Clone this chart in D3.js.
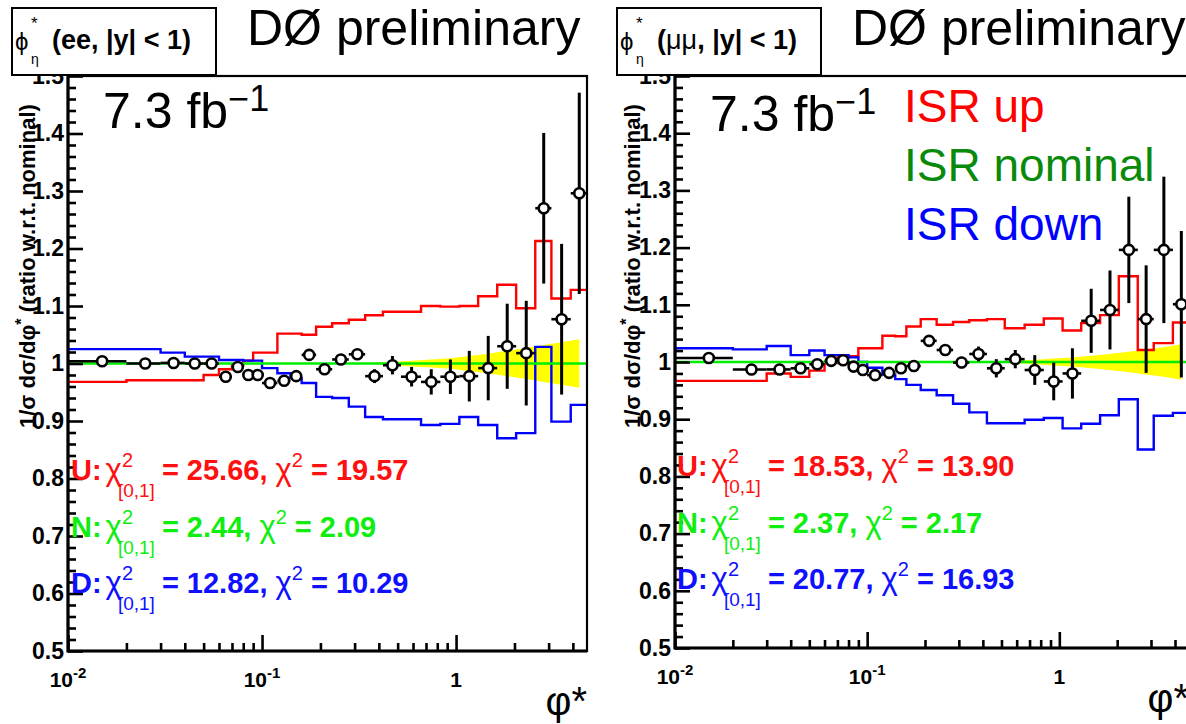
<!DOCTYPE html>
<html>
<head>
<meta charset="utf-8">
<script src="https://cdn.jsdelivr.net/npm/d3@7"></script>
<style>
  body { margin: 0; background: #fff; }
  svg { display: block; }
</style>
</head>
<body>
<svg id="chart" width="1186" height="724"></svg>
<script>
// ---- data ----
const binEdges = [0.01, 0.02, 0.03, 0.04, 0.05, 0.06, 0.07, 0.08, 0.09, 0.10, 0.12, 0.14, 0.16,
  0.19, 0.23, 0.28, 0.34, 0.42, 0.52, 0.66, 0.83, 1.04, 1.3, 1.63, 2.04, 2.56, 3.1, 3.9, 4.73];

// ee channel
const eeData = [1.004, 1.000, 1.001, 1.000, 1.000, 0.977, 0.994, 0.980, 0.980, 0.966, 0.970, 0.978,
  1.015, 0.990, 1.007, 1.016, 0.978, 0.997, 0.977, 0.968, 0.977, 0.978, 0.992, 1.030, 1.018, 1.270, 1.077, 1.296];
const eeErr = [0.004, 0.004, 0.004, 0.004, 0.004, 0.005, 0.005, 0.005, 0.005, 0.005, 0.005, 0.006,
  0.006, 0.007, 0.008, 0.009, 0.012, 0.016, 0.017, 0.022, 0.030, 0.044, 0.056, 0.074, 0.091, 0.131, 0.131, 0.175];
const eeIsrUp = [0.968, 0.971, 0.971, 0.971, 0.980, 0.990, 0.997, 1.005, 1.019, 1.019, 1.052, 1.052,
  1.050, 1.064, 1.070, 1.076, 1.084, 1.090, 1.090, 1.100, 1.099, 1.100, 1.117, 1.137, 1.096, 1.213, 1.113, 1.128];
const eeIsrDown = [1.025, 1.025, 1.019, 1.012, 1.012, 1.006, 1.006, 1.005, 1.005, 0.992, 0.983, 0.975,
  0.966, 0.942, 0.940, 0.925, 0.907, 0.903, 0.903, 0.893, 0.895, 0.907, 0.893, 0.870, 0.879, 1.029, 0.899, 0.928];
const eeBand = [null, null, null, null, null, null, null, null, null, null, null, null, null, null, null,
  0, 0.0015, 0.003, 0.005, 0.007, 0.009, 0.013, 0.017, 0.022, 0.027, 0.032, 0.037, 0.042];
const eeChi = [["U", "25.66", "19.57"], ["N", "2.44", "2.09"], ["D", "12.82", "10.29"]];

// mumu channel
const mmData = [1.007, 0.987, 0.987, 0.989, 0.996, 1.002, 1.003, 0.992, 0.986, 0.977, 0.981, 0.989,
  0.993, 1.037, 1.021, 0.999, 1.014, 0.989, 1.005, 0.986, 0.966, 0.980, 1.072, 1.091, 1.196, 1.075, 1.196, 1.101];
const mmErr = [0.004, 0.004, 0.004, 0.004, 0.004, 0.004, 0.004, 0.005, 0.005, 0.005, 0.005, 0.005,
  0.005, 0.005, 0.005, 0.010, 0.013, 0.016, 0.016, 0.026, 0.033, 0.044, 0.056, 0.069, 0.093, 0.094, 0.128, 0.128];
const mmIsrUp = [0.967, 0.967, 0.980, 0.974, 0.985, 0.998, 1.008, 1.010, 1.024, 1.024, 1.046, 1.045,
  1.062, 1.075, 1.065, 1.070, 1.073, 1.075, 1.059, 1.065, 1.076, 1.055, 1.068, 1.082, 1.150, 1.021, 1.033, 1.069];
const mmIsrDown = [1.024, 1.022, 1.028, 1.012, 1.020, 1.012, 1.012, 1.008, 1.000, 0.990, 0.978, 0.970,
  0.960, 0.951, 0.942, 0.927, 0.912, 0.893, 0.893, 0.899, 0.902, 0.884, 0.892, 0.907, 0.935, 0.847, 0.906, 0.911];
const mmBand = [null, null, null, null, null, null, null, null, null, null, null, null, null, null, null, null, null,
  0, 0.002, 0.004, 0.006, 0.008, 0.011, 0.014, 0.018, 0.022, 0.026, 0.031];
const mmChi = [["U", "18.53", "13.90"], ["N", "2.37", "2.17"], ["D", "20.77", "16.93"]];

// axes
const yMajor = [0.5, 0.6, 0.7, 0.8, 0.9, 1.0, 1.1, 1.2, 1.3, 1.4, 1.5];
const xMajor = [0.01, 0.1, 1];
const xMajorLabels = [["10", "-2"], ["10", "-1"], ["1", ""]];
const xMinor = [0.02, 0.03, 0.04, 0.05, 0.06, 0.07, 0.08, 0.09, 0.2, 0.3, 0.4, 0.5, 0.6, 0.7, 0.8, 0.9, 2, 3, 4];
const legendLabels = ["ISR up", "ISR nominal", "ISR down"];

const FONT = "'Liberation Sans', Arial, Helvetica, sans-serif";
const RED = "#ff0000", GREEN = "#00ee00", BLUE = "#0000ff";
const chiColors = { U: "#ff1010", N: "#10ee10", D: "#1010ff" };

const svg = d3.select("#chart").attr("font-family", FONT);

// ---- panel layout ----
const panels = [
  { key: "ee", left: 68, right: 587, top: 76, bottom: 651, data: eeData, err: eeErr,
    up: eeIsrUp, down: eeIsrDown, band: eeBand, chi: eeChi, channel: "ee", boxX: 12,
    chiX: 71, chiY: 480, lumiX: 103, lumiY: 128, titleX: 35 },
  { key: "mm", left: 675, right: 1189, top: 76, bottom: 648, data: mmData, err: mmErr,
    up: mmIsrUp, down: mmIsrDown, band: mmBand, chi: mmChi, channel: "μμ", boxX: 617,
    chiX: 677, chiY: 476, lumiX: 710, lumiY: 131, titleX: 640, legend: true }
];

function drawPanel(p) {
  const x = d3.scaleLog().domain([0.01, 4.73]).range([p.left, p.right]);
  const y = d3.scaleLinear().domain([0.5, 1.5]).range([p.bottom, p.top]);
  const n = binEdges.length - 1;
  const centers = d3.range(n).map(i => (binEdges[i] + binEdges[i + 1]) / 2);

  const g = svg.append("g");
  const clipId = "clip-" + p.key;
  svg.append("clipPath").attr("id", clipId)
    .append("rect")
    .attr("x", p.left).attr("y", p.top)
    .attr("width", p.right - p.left).attr("height", p.bottom - p.top);

  // y title first, so that tick labels sit over it
  const yt = g.append("text")
    .attr("transform", `translate(${p.titleX},428) rotate(-90)`)
    .attr("font-size", 22).attr("font-weight", "bold");
  yt.append("tspan").text("1/σ dσ/dφ");
  yt.append("tspan").attr("dy", -8).attr("font-size", 16).text("*");
  yt.append("tspan").attr("dy", 8).text(" (ratio w.r.t. nominal)");

  const plot = g.append("g").attr("clip-path", `url(#${clipId})`);

  // yellow uncertainty band
  const bandPts = p.band.map((w, i) => ({ c: centers[i], w })).filter(d => d.w !== null);
  const area = d3.area()
    .x(d => x(d.c))
    .y0(d => y(1 - d.w))
    .y1(d => y(1 + d.w));
  plot.append("path").datum(bandPts).attr("d", area).attr("fill", "#ffff00");

  // ISR up / down histograms
  const stepLine = d3.line()
    .x(d => x(d[0]))
    .y(d => y(d[1]))
    .curve(d3.curveStepAfter);
  const stepPts = vals => binEdges.map((e, i) => [e, vals[Math.min(i, vals.length - 1)]]);

  plot.append("path").datum(stepPts(p.up)).attr("d", stepLine)
    .attr("fill", "none").attr("stroke", RED).attr("stroke-width", 2.4);
  plot.append("path").datum(stepPts(p.down)).attr("d", stepLine)
    .attr("fill", "none").attr("stroke", BLUE).attr("stroke-width", 2.4);

  // nominal
  plot.append("line")
    .attr("x1", p.left).attr("x2", p.right)
    .attr("y1", y(1)).attr("y2", y(1))
    .attr("stroke", GREEN).attr("stroke-width", 2.6);

  // data points
  const pts = p.data.map((v, i) => ({ v, e: p.err[i], c: centers[i], lo: binEdges[i], hi: binEdges[i + 1] }));
  plot.selectAll("line.xerr").data(pts).join("line")
    .attr("class", "xerr")
    .attr("x1", d => x(d.lo)).attr("x2", d => x(d.hi))
    .attr("y1", d => y(d.v)).attr("y2", d => y(d.v))
    .attr("stroke", "#000").attr("stroke-width", 2.6);
  plot.selectAll("line.yerr").data(pts).join("line")
    .attr("class", "yerr")
    .attr("x1", d => x(d.c)).attr("x2", d => x(d.c))
    .attr("y1", d => y(d.v - d.e)).attr("y2", d => y(d.v + d.e))
    .attr("stroke", "#000").attr("stroke-width", 3);
  plot.selectAll("circle.pt").data(pts).join("circle")
    .attr("class", "pt")
    .attr("cx", d => x(d.c)).attr("cy", d => y(d.v))
    .attr("r", 5)
    .attr("fill", "#fff").attr("stroke", "#000").attr("stroke-width", 2.6);

  // frame
  g.append("rect")
    .attr("x", p.left).attr("y", p.top)
    .attr("width", p.right - p.left).attr("height", p.bottom - p.top)
    .attr("fill", "none").attr("stroke", "#000").attr("stroke-width", 2.2);
  g.append("line").attr("x1", p.left).attr("x2", p.left).attr("y1", p.top).attr("y2", p.bottom + 1.5)
    .attr("stroke", "#000").attr("stroke-width", 3.2);
  g.append("line").attr("x1", p.left).attr("x2", p.right).attr("y1", p.bottom).attr("y2", p.bottom)
    .attr("stroke", "#000").attr("stroke-width", 3.2);

  // y axis
  const yMinor = d3.range(0.5, 1.5001, 0.02).filter(v => Math.abs(v * 10 - Math.round(v * 10)) > 1e-6);
  const styleAxis = s => {
    s.select(".domain").remove();
    s.selectAll("line").attr("stroke", "#000").attr("stroke-width", 2.6);
  };
  g.append("g")
    .attr("transform", `translate(${p.left},0)`)
    .call(d3.axisLeft(y).tickValues(yMinor).tickSize(-8).tickFormat(""))
    .call(styleAxis);
  g.append("g")
    .attr("transform", `translate(${p.left},0)`)
    .call(d3.axisLeft(y).tickValues(yMajor).tickSize(-15).tickPadding(4)
      .tickFormat(d => String(Math.round(d * 10) / 10)))
    .call(styleAxis)
    .call(s => s.selectAll("text")
      .attr("font-family", FONT).attr("font-size", 23).attr("font-weight", "bold").attr("fill", "#000"));

  // x axis
  g.append("g")
    .attr("transform", `translate(0,${p.bottom})`)
    .call(d3.axisBottom(x).tickValues(xMinor).tickSize(-8).tickFormat(""))
    .call(styleAxis);
  g.append("g")
    .attr("transform", `translate(0,${p.bottom})`)
    .call(d3.axisBottom(x).tickValues(xMajor).tickSize(-16).tickFormat(""))
    .call(styleAxis);

  xMajor.forEach((v, i) => {
    const [base, expo] = xMajorLabels[i];
    const t = g.append("text")
      .attr("x", x(v)).attr("y", p.bottom + 36)
      .attr("text-anchor", "middle")
      .attr("font-size", 21).attr("font-weight", "bold");
    t.append("tspan").text(base);
    if (expo) t.append("tspan").attr("dy", -9).attr("font-size", 15).text(expo);
  });

  // x title
  g.append("text")
    .attr("x", p.right).attr("y", p.bottom + 64)
    .attr("text-anchor", "end")
    .attr("font-size", 40)
    .text("φ*");

  // luminosity
  const lumi = g.append("text")
    .attr("x", p.lumiX).attr("y", p.lumiY)
    .attr("font-size", 50);
  lumi.append("tspan").text("7.3 fb");
  lumi.append("tspan").attr("dy", -17).attr("font-size", 36).text("−1");

  // legend
  if (p.legend) {
    const legColors = [RED, "#0a8a0a", BLUE];
    legendLabels.forEach((lab, i) => {
      g.append("text")
        .attr("x", 904).attr("y", 122 + i * 59)
        .attr("font-size", 46)
        .attr("fill", legColors[i])
        .text(lab);
    });
  }

  // chi2 lines
  p.chi.forEach((row, i) => {
    drawChi(g, p.chiX, p.chiY + i * 56.5, chiColors[row[0]], row[0], row[1], row[2]);
  });

  // header box
  g.append("rect")
    .attr("x", p.boxX).attr("y", 8).attr("width", 204).attr("height", 67)
    .attr("fill", "#fff").attr("stroke", "#000").attr("stroke-width", 2);
  const sym = g.append("text").attr("font-size", 24);
  sym.append("tspan").attr("x", p.boxX + 3).attr("y", 50).text("ϕ");
  sym.append("tspan").attr("x", p.boxX + 19).attr("y", 29).attr("font-size", 17).text("*");
  sym.append("tspan").attr("x", p.boxX + 19).attr("y", 64).attr("font-size", 14).text("η");
  const hdr = g.append("text").attr("x", p.boxX + 40).attr("y", 49)
    .attr("font-size", 27).attr("font-weight", "bold");
  hdr.append("tspan").text("(");
  if (p.channel === "μμ") {
    hdr.append("tspan").attr("font-weight", "normal").text("μμ");
  } else {
    hdr.append("tspan").text(p.channel);
  }
  hdr.append("tspan").text(", |y| < 1)");

  g.append("text")
    .attr("x", p.boxX + 235).attr("y", 45)
    .attr("font-size", 50)
    .text("DØ preliminary");
}

function drawChi(g, x0, yb, color, tag, a, b) {
  let x = x0;
  const piece = (txt, opts) => {
    const t = g.append("text")
      .attr("x", opts.x !== undefined ? opts.x : x)
      .attr("y", yb + (opts.dy || 0))
      .attr("fill", color)
      .attr("font-size", opts.size || 29)
      .attr("font-weight", opts.bold ? "bold" : "normal")
      .text(txt);
    return t.node().getComputedTextLength();
  };
  x += piece(tag + ":", { bold: true }) + 4;
  x += piece("χ", { size: 31 });
  const w1 = piece("2", { size: 20, dy: -13 });
  const w2 = piece("[0,1]", { size: 19, dy: 17, x: x - 4 });
  x = Math.max(x + w1, x - 4 + w2) + 7;
  x += piece("= " + a + ",", { bold: true }) + 8;
  x += piece("χ", { size: 31 });
  x += piece("2", { size: 20, dy: -13 }) + 8;
  piece("= " + b, { bold: true });
}

panels.forEach(drawPanel);
</script>
</body>
</html>
